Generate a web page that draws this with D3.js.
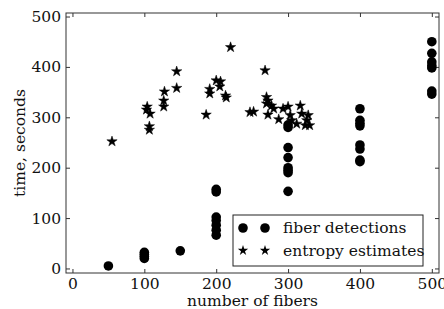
<!DOCTYPE html>
<html>
<head>
<meta charset="utf-8">
<script src="https://cdn.jsdelivr.net/npm/d3@7"></script>
<style>
  body { margin: 0; background: #fff; }
  svg text { font-family: "DejaVu Serif", "Liberation Serif", serif !important; fill: #111; }
</style>
</head>
<body>
<div id="chart"></div>
<script>
// fiber detections (circles)
const detX = [50, 100, 100, 100, 100, 150,
  200, 200, 200, 200, 200, 200, 200,
  300, 300, 300, 300, 300, 300, 300, 300,
  400, 400, 400, 400, 400, 400, 400, 400,
  500, 500, 500, 500, 500, 500, 500];
const detY = [5, 20, 24, 28, 32, 35,
  66, 76, 86, 95, 102, 152, 157,
  153, 190, 195, 200, 220, 240, 280, 285,
  212, 215, 237, 245, 283, 288, 294, 317,
  346, 352, 398, 403, 410, 427, 450];

// entropy estimates (stars)
const entX = [55, 104, 103, 108, 107, 107, 128, 127, 127, 145, 145,
  186, 191, 191, 200, 206, 205, 213, 214, 220, 247, 252,
  268, 270, 272, 270, 277, 280, 272, 287, 293, 300, 303, 305,
  317, 319, 312, 324, 328, 330, 326];
const entY = [252, 321, 315, 307, 282, 275, 351, 333, 321, 391, 358,
  305, 356, 347, 373, 371, 361, 343, 339, 439, 310, 311,
  393, 340, 333, 327, 323, 317, 305, 296, 317, 321, 304, 294,
  323, 307, 287, 284, 304, 284, 294];

const xTicks = [0, 100, 200, 300, 400, 500];
const yTicks = [0, 100, 200, 300, 400, 500];
const legendLabels = ["fiber detections", "entropy estimates"];

const W = 444, H = 309;
const margin = { top: 13, right: 5, bottom: 36, left: 66 };
const width = W - margin.left - margin.right;
const height = H - margin.top - margin.bottom;
const fontSize = "15.5px";

const svg = d3.select("#chart").append("svg")
  .attr("width", W).attr("height", H);

const g = svg.append("g")
  .attr("transform", `translate(${margin.left},${margin.top})`);

const x = d3.scaleLinear().domain([-9, 510]).range([0, width]);
const y = d3.scaleLinear().domain([-9, 507]).range([height, 0]);

// axes, ticks pointing inward, mirrored on top/right
function styleAxis(sel) {
  sel.attr("font-family", null);
  sel.select(".domain").remove();
  sel.selectAll("line").attr("stroke", "#333");
  sel.selectAll("text").style("font-size", fontSize);
}

g.append("g")
  .attr("transform", `translate(0,${height})`)
  .call(d3.axisBottom(x).tickValues(xTicks).tickSizeInner(-4).tickSizeOuter(0).tickPadding(5))
  .call(styleAxis);
g.append("g")
  .call(d3.axisTop(x).tickValues(xTicks).tickSizeInner(-4).tickSizeOuter(0).tickFormat(""))
  .call(styleAxis);
g.append("g")
  .call(d3.axisLeft(y).tickValues(yTicks).tickSizeInner(-4).tickSizeOuter(0).tickPadding(5))
  .call(styleAxis);
g.append("g")
  .attr("transform", `translate(${width},0)`)
  .call(d3.axisRight(y).tickValues(yTicks).tickSizeInner(-4).tickSizeOuter(0).tickFormat(""))
  .call(styleAxis);

g.append("rect")
  .attr("width", width).attr("height", height)
  .attr("fill", "none").attr("stroke", "#333").attr("stroke-width", 1);

// markers
const star = d3.symbol().type(d3.symbolStar).size(33);

g.selectAll(".dot")
  .data(detX.map((v, i) => [v, detY[i]]))
  .enter().append("circle")
  .attr("class", "dot")
  .attr("cx", (d) => x(d[0]))
  .attr("cy", (d) => y(d[1]))
  .attr("r", 4.8)
  .attr("fill", "#000");

g.selectAll(".star")
  .data(entX.map((v, i) => [v, entY[i]]))
  .enter().append("path")
  .attr("class", "star")
  .attr("d", star)
  .attr("transform", (d) => `translate(${x(d[0])},${y(d[1])})`)
  .attr("fill", "#000")
  .attr("stroke", "#000")
  .attr("stroke-width", 0.5);

// legend
const lg = svg.append("g").attr("transform", "translate(233,215)");
lg.append("rect")
  .attr("width", 190).attr("height", 51)
  .attr("fill", "#fff").attr("stroke", "#222").attr("stroke-width", 1);

legendLabels.forEach((label, i) => {
  const cy = 13 + i * 22.5;
  [10, 32].forEach((mx) => {
    if (i === 0) {
      lg.append("circle").attr("cx", mx).attr("cy", cy).attr("r", 4.8).attr("fill", "#000");
    } else {
      lg.append("path").attr("d", star).attr("transform", `translate(${mx},${cy})`).attr("fill", "#000");
    }
  });
  lg.append("text")
    .attr("x", 50).attr("y", cy)
    .attr("dy", "0.35em")
    .style("font-size", fontSize)
    .text(label);
});

// axis labels
svg.append("text")
  .attr("transform", `translate(${margin.left + width / 2}, ${H - 3})`)
  .style("text-anchor", "middle")
  .style("font-size", fontSize)
  .text("number of fibers");

svg.append("text")
  .attr("transform", "rotate(-90)")
  .attr("x", -(margin.top + height / 2))
  .attr("y", 25)
  .style("text-anchor", "middle")
  .style("font-size", fontSize)
  .text("time, seconds");
</script>
</body>
</html>
